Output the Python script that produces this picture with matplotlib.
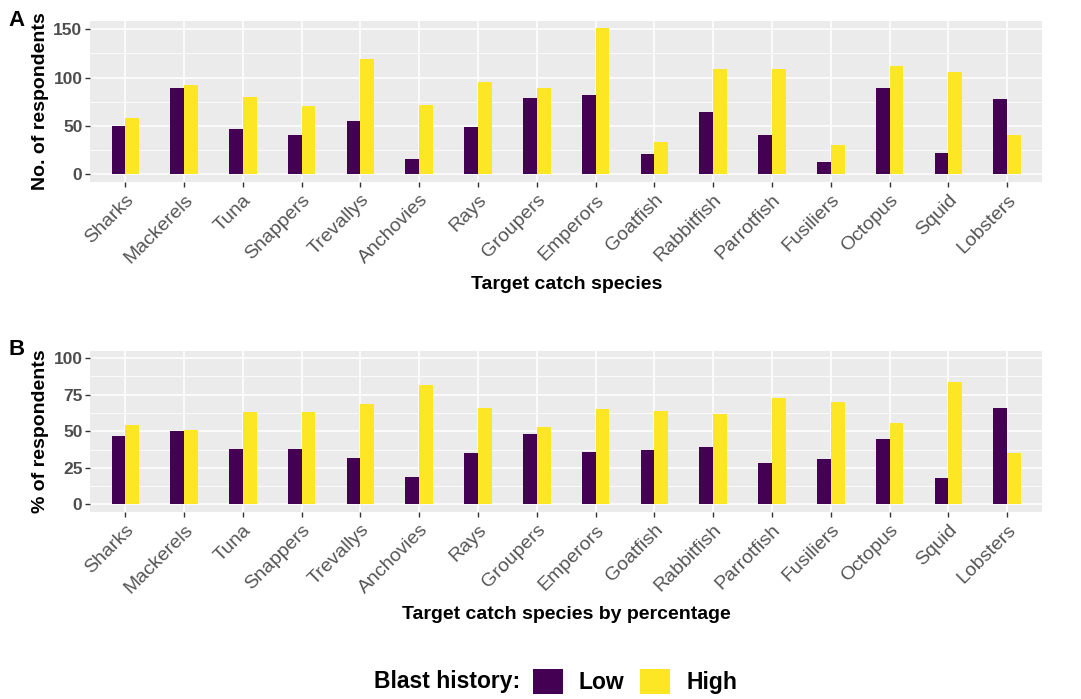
import numpy as np
import matplotlib.pyplot as plt
from matplotlib.patches import Patch
from matplotlib.ticker import MultipleLocator

plt.rcParams["font.family"] = ["Liberation Sans", "DejaVu Sans"]

species = ["Sharks", "Mackerels", "Tuna", "Snappers", "Trevallys", "Anchovies",
           "Rays", "Groupers", "Emperors", "Goatfish", "Rabbitfish", "Parrotfish",
           "Fusiliers", "Octopus", "Squid", "Lobsters"]

# counts of respondents per blast history group
count_low = [50, 89, 47, 41, 55, 16, 49, 79, 82, 21, 65, 41, 13, 89, 22, 78]
count_high = [58, 92, 80, 71, 119, 72, 95, 89, 151, 34, 109, 109, 30, 112, 106, 41]

# same, as percentage of respondents
pct_low = [47, 50, 38, 38, 32, 19, 35, 48, 36, 37, 39, 28, 31, 45, 18, 66]
pct_high = [54, 51, 63, 63, 69, 82, 66, 53, 65, 64, 62, 73, 70, 56, 84, 35]

LOW = "#440154"
HIGH = "#FDE725"
BG = "#EBEBEB"
bw = 0.235

fig = plt.figure(figsize=(10.81, 6.99), dpi=100)
axA = fig.add_axes([0.0833, 0.740, 0.881, 0.230])
axB = fig.add_axes([0.0833, 0.268, 0.881, 0.230])


def panel(ax, low, high, ylim, major, minor, ylabel, xlabel):
    x = np.arange(len(species))
    ax.set_facecolor(BG)
    ax.bar(x - bw / 2, low, width=bw, color=LOW, zorder=3)
    ax.bar(x + bw / 2, high, width=bw, color=HIGH, zorder=3)
    ax.set_xlim(-0.6, len(species) - 0.4)
    ax.set_ylim(*ylim)
    ax.yaxis.set_major_locator(MultipleLocator(major))
    ax.yaxis.set_minor_locator(MultipleLocator(minor))
    ax.set_xticks(x)
    ax.set_xticklabels(species, rotation=45, ha="right", rotation_mode="anchor",
                       color="#555555", fontsize=14)
    ax.grid(which="major", color="white", lw=1.1, zorder=0)
    ax.grid(which="minor", axis="y", color="white", lw=0.55, zorder=0)
    ax.tick_params(axis="both", which="major", length=3.5, width=1, color="#333333")
    ax.tick_params(axis="y", which="minor", length=0)
    ax.tick_params(axis="y", labelsize=12.5, labelcolor="#4D4D4D", pad=2)
    for lab in ax.get_yticklabels():
        lab.set_fontweight("bold")
    for s in ax.spines.values():
        s.set_visible(False)
    ax.set_ylabel(ylabel, fontsize=14, fontweight="bold", labelpad=3)
    ax.set_xlabel(xlabel, fontsize=14, fontweight="bold", labelpad=6)


panel(axA, count_low, count_high, (-7.55, 158.55), 50, 25,
      "No. of respondents", "Target catch species")
panel(axB, pct_low, pct_high, (-5, 105), 25, 12.5,
      "% of respondents", "Target catch species by percentage")

fig.text(0.008, 0.970, "A", fontsize=16, fontweight="bold", va="center")
fig.text(0.008, 0.500, "B", fontsize=16, fontweight="bold", va="center")

# legend along the bottom
fig.text(0.481, 0.025, "Blast history:", fontsize=16.5, fontweight="bold",
         ha="right", va="center")
handles = [Patch(facecolor=LOW, label="Low"), Patch(facecolor=HIGH, label="High")]
leg = fig.legend(handles=handles, loc="center left", bbox_to_anchor=(0.493, 0.025),
                 ncol=2, frameon=False, handlelength=1.3, handleheight=1.3,
                 handletextpad=0.7, columnspacing=0.7, borderaxespad=0,
                 borderpad=0, prop={"size": 16.5, "weight": "bold"})

fig.savefig("out.png", dpi=100)
